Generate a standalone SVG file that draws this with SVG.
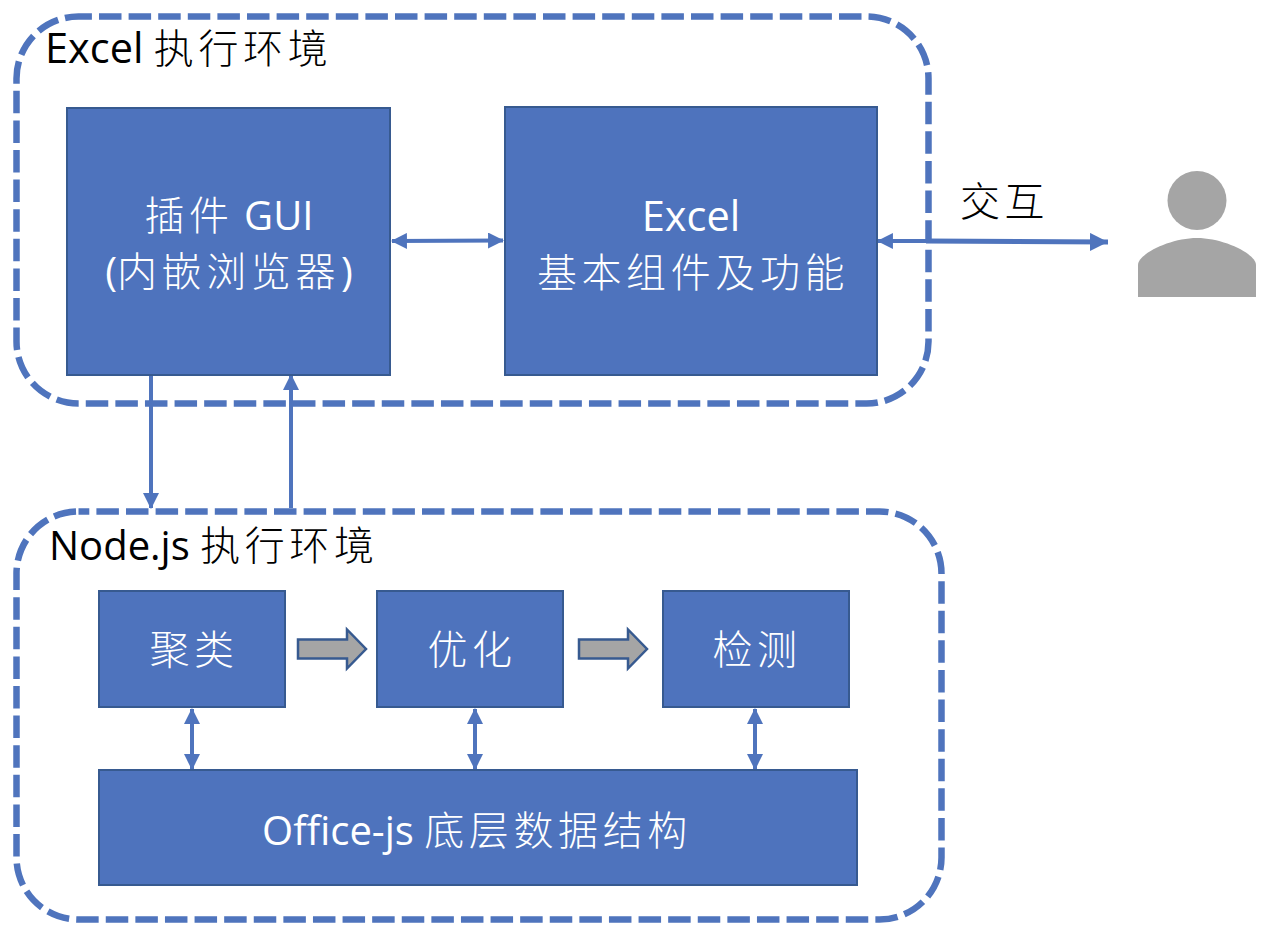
<svg xmlns="http://www.w3.org/2000/svg" width="1264" height="934" viewBox="0 0 1264 934">
<style>
text{font-family:"Open Sans","Noto Sans CJK SC",sans-serif;font-size:40px}
.w{fill:#fff;text-anchor:middle}
.k{fill:#000}
.c{font-family:"Noto Sans CJK SC",sans-serif;font-weight:300;letter-spacing:4.600px}
.zone{fill:none;stroke:#4f74bd;stroke-width:6.5;stroke-dasharray:22.500 7.100}
.box{fill:#4e73bd;stroke:#375a90;stroke-width:2}
.gray{fill:#a5a5a5;stroke:#375a90;stroke-width:2.500}
.ln{fill:none;stroke:#4f74bd;stroke-width:4}
.l2{fill:none;stroke:#4f74bd;stroke-width:5}
.big{font-size:41.500px}
</style>
<defs>
<marker id="a" markerUnits="userSpaceOnUse" markerWidth="16" markerHeight="16" refX="14" refY="7.5" orient="auto-start-reverse" viewBox="0 0 15 15"><path d="M0 0L15 7.5L0 15Z" fill="#4f74bd"/></marker>
<marker id="b" markerUnits="userSpaceOnUse" markerWidth="18" markerHeight="18" refX="15" refY="7.5" orient="auto" viewBox="0 0 15 15"><path d="M0 0L15 7.5L0 15Z" fill="#4f74bd"/></marker>
</defs>
<g id="zone-excel"><rect class="zone" x="16.500" y="16.500" width="912" height="387" rx="62" stroke-dashoffset="9.100"/>
<text class="k" x="45" y="63"><tspan class="big">Excel</tspan> <tspan class="c">执行环境</tspan></text></g>
<g id="zone-node"><rect class="zone" x="16.500" y="511.500" width="925" height="408" rx="62" stroke-dashoffset="11.700"/>
<text class="k" x="49" y="560">Node.js <tspan class="c">执行环境</tspan></text></g>
<g id="connectors">
<path class="ln" d="M392 241L503 240.500" marker-start="url(#a)" marker-end="url(#a)"/>
<path class="ln" d="M878 241L926 241"  marker-start="url(#a)"/>
<path class="l2" d="M926 241L1108 242" marker-end="url(#b)"/>
<path class="ln" d="M151 376L151 508" marker-end="url(#a)"/>
<path class="ln" d="M291 508L291 375" marker-end="url(#a)"/>
<path class="ln" d="M192 709L192 769" marker-start="url(#a)" marker-end="url(#a)"/>
<path class="ln" d="M475 709L475 769" marker-start="url(#a)" marker-end="url(#a)"/>
<path class="ln" d="M755 709L755 769" marker-start="url(#a)" marker-end="url(#a)"/>
</g>
<g id="node-gui"><rect class="box" x="67" y="108" width="323" height="267"/>
<text class="w" x="229" y="230"><tspan class="c">插件</tspan> GUI</text>
<text class="w" x="229" y="286">(<tspan class="c">内嵌浏览器</tspan><tspan dx="1">)</tspan></text></g>
<g id="node-excel"><rect class="box" x="505" y="107" width="372" height="268"/>
<text class="w big" x="691" y="231">Excel</text>
<text class="w c" x="693" y="287">基本组件及功能</text></g>
<g id="node-cluster"><rect class="box" x="99" y="591" width="186" height="116"/><text class="w c" x="194" y="664">聚类</text></g>
<g id="node-optimize"><rect class="box" x="377" y="591" width="186" height="116"/><text class="w c" x="472" y="664">优化</text></g>
<g id="node-detect"><rect class="box" x="663" y="591" width="186" height="116"/><text class="w c" x="757" y="664">检测</text></g>
<g id="node-office"><rect class="box" x="99" y="770" width="758" height="115"/>
<text class="w" x="477" y="845">Office-js <tspan class="c">底层数据结构</tspan></text></g>
<g id="arrow-1"><path class="gray" d="M298 639.500H347V629.500L366 649L347 668.500V658.500H298Z"/></g>
<g id="arrow-2"><path class="gray" d="M579 639.500H628V629.500L647 649L628 668.500V658.500H579Z"/></g>
<g id="label-interact"><text class="k c" x="960" y="216">交互</text></g>
<g id="user"><circle cx="1197" cy="200.500" r="29.500" fill="#a5a5a5"/>
<path d="M1138 297V265C1138 254 1170 238 1197 238C1224 238 1256 254 1256 265V297Z" fill="#a5a5a5"/></g>
</svg>
